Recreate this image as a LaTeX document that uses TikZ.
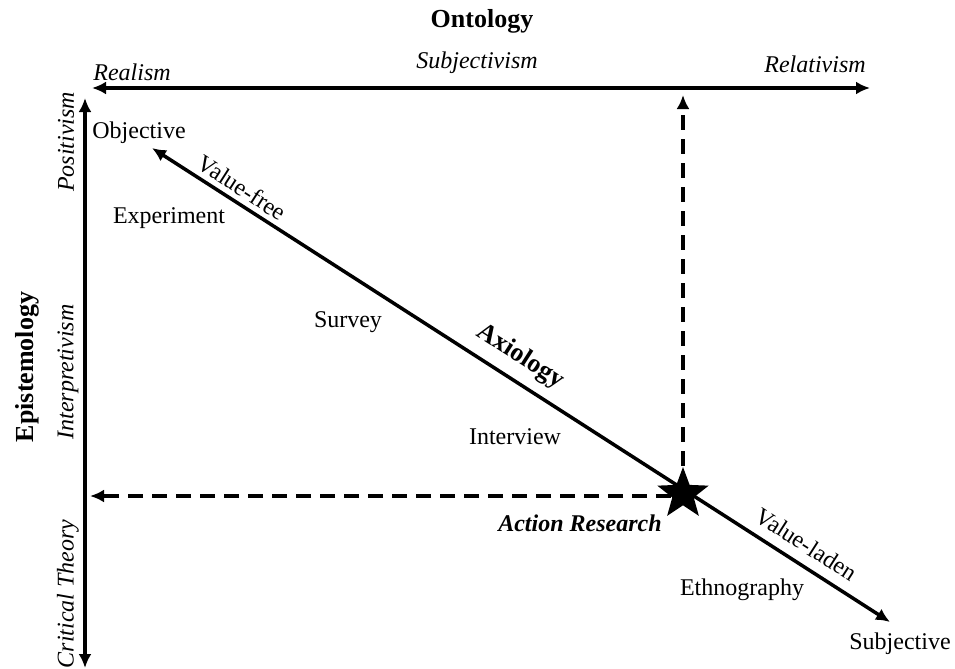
\documentclass[tikz,border=0pt]{standalone}
\usepackage{fontspec}
\setmainfont{Liberation Serif}
\usetikzlibrary{arrows.meta}
\usetikzlibrary{shapes.geometric}
\tikzset{
  Achse/.style={line width=2pt,<->}, % Hauptachsen
  Strich/.style={line width=1.6pt,->,dash pattern=on 7.5pt off 4.5pt}, % gestrichelte Pfeile
  Titel/.style={inner sep=0pt,font=\fontsize{13}{15}\selectfont\bfseries},
  Lage/.style={inner sep=0pt,font=\fontsize{12}{14}\selectfont\itshape},
  Text/.style={inner sep=0pt},
  Schraeg/.style={sloped,above,inner sep=#1},
  Schraeg/.default=2.5pt,
  Stern/.style={star,star points=5,star point ratio=2.4,fill=black,
    minimum size=27pt,inner sep=0pt}
}
\begin{document}
\begin{tikzpicture}[
x=0.5pt,y=-0.5pt,
font=\fontsize{12}{14}\selectfont,
>={Latex[length=7pt,width=6.5pt]} % Voreinstellung fuer Pfeilspitzen
]
\useasboundingbox (0,0) rectangle (955,669);

%Endpunkte
\coordinate (Real) at (92,88);
\coordinate (Rel) at (870,88);
\coordinate (Pos) at (85,98);
\coordinate (Krit) at (85,668);
\coordinate (Obj) at (152,148);
\coordinate (Subj) at (890,622);
\coordinate (ARoben) at (683,95);
\coordinate (ARlinks) at (90,496);

%Achsen
\draw[Achse] (Real) -- (Rel);
\draw[Achse] (Pos) -- (Krit);
\draw[Achse,line width=1.75pt] (Obj) -- (Subj)
  node[Schraeg,pos=0.111] (vfree) {Value-free}
  node[Schraeg=5pt,pos=0.482,font=\fontsize{13}{15}\selectfont\bfseries] (axio) {Axiology}
  node[Schraeg=5pt,pos=0.872] (vladen) {Value-laden};

%Action Research
\node[Stern] (AR) at (683,494) {};
\draw[Strich] (AR) -- (ARoben);
\draw[Strich] (AR.center) ++(-12,2) -- (ARlinks);

%Beschriftungen
\node[Titel] (onto) at (482,21) {Ontology};
\node[Titel,rotate=90] (epis) at (27,367) {Epistemology};

\node[Lage] (realism) at (132,72) {Realism};
\node[Lage] (subjectiv) at (477,63) {Subjectivism};
\node[Lage] (relativ) at (815,64) {Relativism};
\node[Lage,rotate=90] (positiv) at (66,142) {Positivism};
\node[Lage,rotate=90] (interpret) at (68,372) {Interpretivism};
\node[Lage,rotate=90] (kritisch) at (68,594) {Critical Theory};

\node[Text] (objektiv) at (139,133) {Objective};
\node[Text] (subjektiv) at (900,644) {Subjective};
\node[Text] (exp) at (169,218) {Experiment};
\node[Text] (survey) at (348,322) {Survey};
\node[Text] (interview) at (515,437) {Interview};
\node[Text] (ethno) at (742,590) {Ethnography};
\node[Text,font=\fontsize{12}{14}\selectfont\bfseries\itshape] (arText) at (580,523) {Action Research};
\end{tikzpicture}
\end{document}
